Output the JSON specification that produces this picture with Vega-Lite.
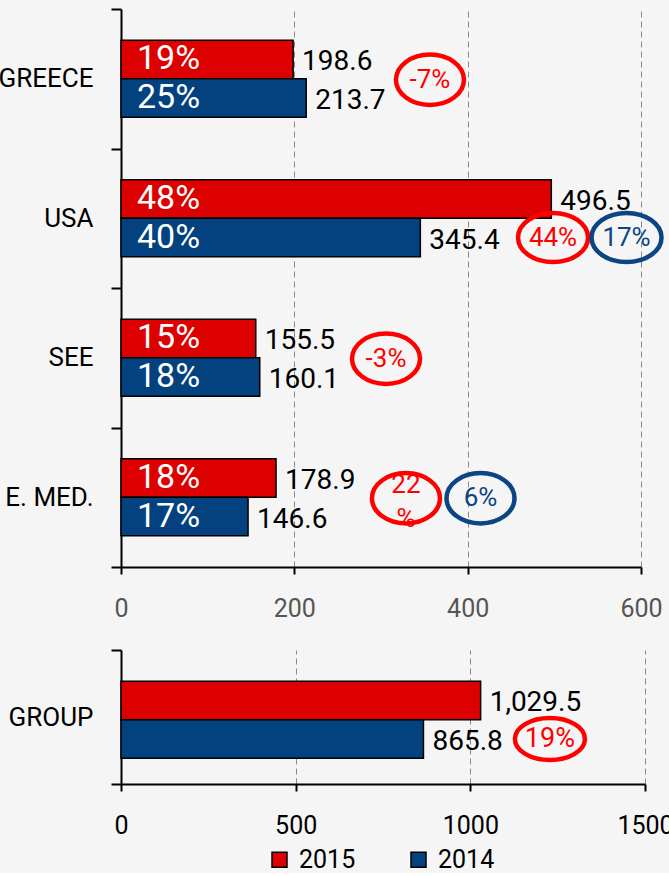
{
  "$schema": "https://vega.github.io/schema/vega-lite/v6.json",
  "background": "#f5f5f5",
  "padding": {"left": -2, "top": -4, "right": 0, "bottom": 0},
  "spacing": 16,
  "config": {
    "font": "Roboto",
    "view": {"stroke": null},
    "axis": {"domainColor": "#000000", "domainWidth": 2, "tickColor": "#000000", "tickWidth": 2, "title": null},
    "legend": {"orient": "none", "legendX": 146, "legendY": 838, "direction": "horizontal", "title": null, "symbolType": "square", "symbolSize": 225, "symbolStrokeColor": "#000000", "symbolStrokeWidth": 1.5, "labelFontSize": 25, "labelColor": "#000000", "columnPadding": 50, "labelOffset": 7}
  },
  "datasets": {
    "bars": [
      {"region": "GREECE", "year": "2015", "value": 198.6, "share": "19%"},
      {"region": "GREECE", "year": "2014", "value": 213.7, "share": "25%"},
      {"region": "USA", "year": "2015", "value": 496.5, "share": "48%"},
      {"region": "USA", "year": "2014", "value": 345.4, "share": "40%"},
      {"region": "SEE", "year": "2015", "value": 155.5, "share": "15%"},
      {"region": "SEE", "year": "2014", "value": 160.1, "share": "18%"},
      {"region": "E. MED.", "year": "2015", "value": 178.9, "share": "18%"},
      {"region": "E. MED.", "year": "2014", "value": 146.6, "share": "17%"},
      {"region": "GROUP", "year": "2015", "value": 1029.5, "share": null},
      {"region": "GROUP", "year": "2014", "value": 865.8, "share": null}
    ],
    "notes": [
      {"region": "GREECE", "pos": 356.5, "label": "-7%", "kind": "A", "year": null},
      {"region": "USA", "pos": 498.5, "label": "44%", "kind": "A", "year": "2014"},
      {"region": "USA", "pos": 583.3, "label": "17%", "kind": "B", "year": "2014"},
      {"region": "SEE", "pos": 305.8, "label": "-3%", "kind": "A", "year": null},
      {"region": "E. MED.", "pos": 328.8, "label": "22\n%", "kind": "A", "year": null},
      {"region": "E. MED.", "pos": 414.8, "label": "6%", "kind": "B", "year": null},
      {"region": "GROUP", "pos": 1227.8, "label": "19%", "kind": "A", "year": "2014"}
    ]
  },
  "vconcat": [
    {
      "width": 520,
      "height": 558,
      "encoding": {
        "y": {"field": "region", "type": "nominal", "sort": ["GREECE", "USA", "SEE", "E. MED."],
          "scale": {"paddingInner": 0, "paddingOuter": 0},
          "axis": {"tickBand": "extent", "tickSize": 10, "labelPadding": 18, "labelFontSize": 26, "labelColor": "#000000", "grid": false}}
      },
      "layer": [
        {
          "data": {"name": "bars"},
          "transform": [{"filter": "datum.region != 'GROUP'"}],
          "mark": {"type": "bar", "stroke": "#000000", "strokeWidth": 1.5},
          "encoding": {
            "x": {"field": "value", "type": "quantitative", "scale": {"domain": [0, 600], "nice": false},
              "axis": {"values": [0, 200, 400, 600], "grid": true, "gridDash": [6, 4], "gridColor": "#8a8a8a", "gridWidth": 1, "tickSize": 7, "labelPadding": 22, "labelFontSize": 25, "labelColor": "#555555", "labelFlush": false}},
            "yOffset": {"field": "year", "type": "nominal", "sort": ["2015", "2014"], "scale": {"paddingInner": 0, "paddingOuter": 0.81}},
            "color": {"field": "year", "type": "nominal", "scale": {"domain": ["2015", "2014"], "range": ["#dd0000", "#03417f"]}}
          }
        },
        {
          "data": {"name": "bars"},
          "transform": [{"filter": "datum.region != 'GROUP'"}],
          "mark": {"type": "text", "align": "left", "baseline": "middle", "dx": 9, "dy": 3, "fontSize": 28, "color": "#000000"},
          "encoding": {
            "x": {"field": "value", "type": "quantitative"},
            "yOffset": {"field": "year", "type": "nominal", "sort": ["2015", "2014"]},
            "text": {"field": "value", "type": "quantitative", "format": ",.1f"}
          }
        },
        {
          "data": {"name": "bars"},
          "transform": [{"filter": "datum.region != 'GROUP'"}],
          "mark": {"type": "text", "align": "left", "baseline": "middle", "dx": 16, "fontSize": 34, "color": "#ffffff"},
          "encoding": {
            "x": {"datum": 0, "type": "quantitative"},
            "yOffset": {"field": "year", "type": "nominal", "sort": ["2015", "2014"]},
            "text": {"field": "share", "type": "nominal"}
          }
        },
        {
          "data": {"name": "notes"},
          "transform": [{"filter": "datum.region != 'GROUP' && datum.year == null"}],
          "mark": {"type": "point", "shape": "M -1 0 A 1 0.74 0 1 1 1 0 A 1 0.74 0 1 1 -1 0 Z", "size": 4624, "filled": false, "strokeWidth": 4.5, "opacity": 1, "yOffset": 1},
          "encoding": {
            "x": {"field": "pos", "type": "quantitative"},
            "stroke": {"field": "kind", "type": "nominal", "scale": {"domain": ["A", "B"], "range": ["#ff0000", "#0b4584"]}, "legend": null}
          }
        },
        {
          "data": {"name": "notes"},
          "transform": [{"filter": "datum.region != 'GROUP' && datum.year == null && indexof(datum.label, '\\n') < 0"}],
          "mark": {"type": "text", "align": "center", "baseline": "middle", "fontSize": 26, "yOffset": 1},
          "encoding": {
            "x": {"field": "pos", "type": "quantitative"},
            "text": {"field": "label", "type": "nominal"},
            "fill": {"field": "kind", "type": "nominal", "scale": {"domain": ["A", "B"], "range": ["#ff0000", "#0b4584"]}, "legend": null}
          }
        },
        {
          "data": {"name": "notes"},
          "transform": [{"filter": "datum.region != 'GROUP' && datum.year == null && indexof(datum.label, '\\n') >= 0"}],
          "mark": {"type": "text", "align": "center", "baseline": "middle", "fontSize": 26, "lineBreak": "\n", "lineHeight": 34, "yOffset": -12},
          "encoding": {
            "x": {"field": "pos", "type": "quantitative"},
            "text": {"field": "label", "type": "nominal"},
            "fill": {"field": "kind", "type": "nominal", "scale": {"domain": ["A", "B"], "range": ["#ff0000", "#0b4584"]}, "legend": null}
          }
        },
        {
          "data": {"name": "notes"},
          "transform": [{"filter": "datum.region != 'GROUP' && datum.year != null"}],
          "mark": {"type": "point", "shape": "M -1 0 A 1 0.7 0 1 1 1 0 A 1 0.7 0 1 1 -1 0 Z", "size": 4900, "filled": false, "strokeWidth": 4.5, "opacity": 1, "yOffset": 10},
          "encoding": {
            "x": {"field": "pos", "type": "quantitative"},
            "yOffset": {"field": "year", "type": "nominal", "sort": ["2015", "2014"]},
            "stroke": {"field": "kind", "type": "nominal", "scale": {"domain": ["A", "B"], "range": ["#ff0000", "#0b4584"]}, "legend": null}
          }
        },
        {
          "data": {"name": "notes"},
          "transform": [{"filter": "datum.region != 'GROUP' && datum.year != null"}],
          "mark": {"type": "text", "align": "center", "baseline": "middle", "fontSize": 26, "yOffset": 10},
          "encoding": {
            "x": {"field": "pos", "type": "quantitative"},
            "yOffset": {"field": "year", "type": "nominal", "sort": ["2015", "2014"]},
            "text": {"field": "label", "type": "nominal"},
            "fill": {"field": "kind", "type": "nominal", "scale": {"domain": ["A", "B"], "range": ["#ff0000", "#0b4584"]}, "legend": null}
          }
        }
      ]
    },
    {
      "width": 524,
      "height": 134,
      "encoding": {
        "y": {"field": "region", "type": "nominal",
          "scale": {"paddingInner": 0, "paddingOuter": 0},
          "axis": {"tickBand": "extent", "tickSize": 10, "labelPadding": 18, "labelFontSize": 26, "labelColor": "#000000", "grid": false}}
      },
      "layer": [
        {
          "data": {"name": "bars"},
          "transform": [{"filter": "datum.region == 'GROUP'"}],
          "mark": {"type": "bar", "stroke": "#000000", "strokeWidth": 1.5},
          "encoding": {
            "x": {"field": "value", "type": "quantitative", "scale": {"domain": [0, 1500], "nice": false},
              "axis": {"values": [0, 500, 1000, 1500], "format": "d", "grid": true, "gridDash": [6, 4], "gridColor": "#8a8a8a", "gridWidth": 1, "tickSize": 7, "labelPadding": 22, "labelFontSize": 25, "labelColor": "#000000", "labelFlush": false}},
            "yOffset": {"field": "year", "type": "nominal", "sort": ["2015", "2014"], "scale": {"paddingInner": 0, "paddingOuter": 0.83}},
            "color": {"field": "year", "type": "nominal", "scale": {"domain": ["2015", "2014"], "range": ["#dd0000", "#03417f"]}}
          }
        },
        {
          "data": {"name": "bars"},
          "transform": [{"filter": "datum.region == 'GROUP'"}],
          "mark": {"type": "text", "align": "left", "baseline": "middle", "dx": 9, "dy": 3, "fontSize": 28, "color": "#000000"},
          "encoding": {
            "x": {"field": "value", "type": "quantitative"},
            "yOffset": {"field": "year", "type": "nominal", "sort": ["2015", "2014"]},
            "text": {"field": "value", "type": "quantitative", "format": ",.1f"}
          }
        },
        {
          "data": {"name": "notes"},
          "transform": [{"filter": "datum.region == 'GROUP'"}],
          "mark": {"type": "point", "shape": "M -1 0 A 1 0.6 0 1 1 1 0 A 1 0.6 0 1 1 -1 0 Z", "size": 4900, "filled": false, "strokeWidth": 4.5, "opacity": 1, "yOffset": 10},
          "encoding": {
            "x": {"field": "pos", "type": "quantitative"},
            "yOffset": {"field": "year", "type": "nominal", "sort": ["2015", "2014"]},
            "stroke": {"field": "kind", "type": "nominal", "scale": {"domain": ["A", "B"], "range": ["#ff0000", "#0b4584"]}, "legend": null}
          }
        },
        {
          "data": {"name": "notes"},
          "transform": [{"filter": "datum.region == 'GROUP'"}],
          "mark": {"type": "text", "align": "center", "baseline": "middle", "fontSize": 27, "yOffset": 10},
          "encoding": {
            "x": {"field": "pos", "type": "quantitative"},
            "yOffset": {"field": "year", "type": "nominal", "sort": ["2015", "2014"]},
            "text": {"field": "label", "type": "nominal"},
            "fill": {"field": "kind", "type": "nominal", "scale": {"domain": ["A", "B"], "range": ["#ff0000", "#0b4584"]}, "legend": null}
          }
        }
      ]
    }
  ]
}
